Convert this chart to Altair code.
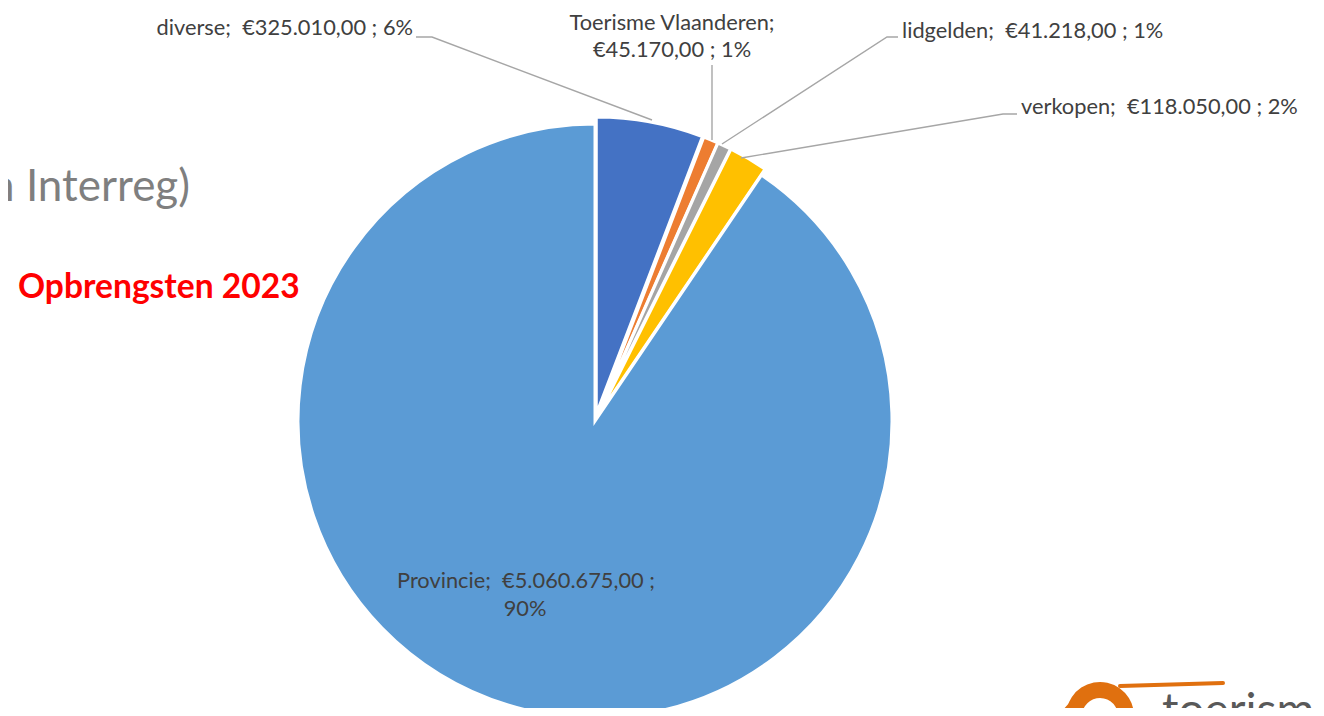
import math
import altair as alt
import pandas as pd

# ---- data ----
categories = ["diverse", "Toerisme Vlaanderen", "lidgelden", "verkopen", "Provincie"]
values = [325010, 45170, 41218, 118050, 5060675]
percents = ["6%", "1%", "1%", "2%", "90%"]
colors = ["#4472C4", "#ED7D31", "#A5A5A5", "#FFC000", "#5B9BD5"]
exploded = [1, 1, 1, 1, 0]

# ---- layout (chart pixel coords) ----
W, H = 1308, 700
CX, CY, R = 587, 413, 297
EXPLODE = 7
FONT = "Lato"
LABEL_COLOR = "#404040"
LINE_COLOR = "#A6A6A6"
SP = "\u00a0 "  # double space as in the original labels


def euro(v):
    s = f"{v:,.2f}"
    return "€" + s.replace(",", "X").replace(".", ",").replace("X", ".")


df = pd.DataFrame({"cat": categories, "value": values, "idx": list(range(len(values)))})

total = sum(values)
layers = []
cum = 0
for i, (c, v, e) in enumerate(zip(categories, values, exploded)):
    mid = (cum + v / 2) / total * 2 * math.pi
    cum += v
    ox = CX + e * EXPLODE * math.sin(mid)
    oy = CY - e * EXPLODE * math.cos(mid)
    layers.append(
        alt.Chart(df)
        .mark_arc(outerRadius=R, stroke="white", strokeWidth=3)
        .encode(
            theta=alt.Theta("value:Q", stack=True),
            order=alt.Order("idx:Q"),
            color=alt.Color("cat:N", scale=alt.Scale(domain=categories, range=colors), legend=None),
            opacity=alt.when(alt.datum.cat == c).then(alt.value(1)).otherwise(alt.value(0)),
            x=alt.value(ox),
            y=alt.value(oy),
        )
    )

# ---- data labels ----
lab_text = [
    f"{categories[0]};{SP}{euro(values[0])} ; {percents[0]}",
    f"{categories[1]};",
    f"{euro(values[1])} ; {percents[1]}",
    f"{categories[2]};{SP}{euro(values[2])} ; {percents[2]}",
    f"{categories[3]};{SP}{euro(values[3])} ; {percents[3]}",
    f"{categories[4]};{SP}{euro(values[4])} ;",
    f"{percents[4]}",
]
lab_x = [405, 664, 664, 894, 1013, 518, 517]
lab_y = [20, 15, 42, 23, 99, 573, 601]
lab_align = ["right", "center", "center", "left", "left", "center", "center"]
labels = pd.DataFrame({"text": lab_text, "x": lab_x, "y": lab_y, "align": lab_align})

for al in ["left", "center", "right"]:
    layers.append(
        alt.Chart(labels)
        .transform_filter(alt.datum.align == al)
        .mark_text(font=FONT, fontSize=21.8, color=LABEL_COLOR, align=al, baseline="middle")
        .encode(
            x=alt.X("x:Q", scale=None, axis=None),
            y=alt.Y("y:Q", scale=None, axis=None),
            text="text:N",
        )
    )

# ---- leader lines ----
ll_id = [0, 0, 0, 1, 1, 2, 2, 2, 3, 3, 3]
ll_ord = [0, 1, 2, 0, 1, 0, 1, 2, 0, 1, 2]
ll_x = [408, 424, 644, 704, 704, 890, 879, 714, 1009, 995, 733]
ll_y = [29, 29, 112, 57, 132, 29, 29, 136, 106, 106, 150]
leaders = pd.DataFrame({"id": ll_id, "o": ll_ord, "x": ll_x, "y": ll_y})
layers.append(
    alt.Chart(leaders)
    .mark_line(color=LINE_COLOR, strokeWidth=1.4)
    .encode(
        x=alt.X("x:Q", scale=None, axis=None),
        y=alt.Y("y:Q", scale=None, axis=None),
        detail="id:N",
        order="o:Q",
    )
)

# ---- slide texts ----
slide = pd.DataFrame({
    "text": ["n Interreg)", "Opbrengsten 2023"],
    "x": [182, 10],
    "y": [180, 280],
})
layers.append(
    alt.Chart(slide.iloc[[0]])
    .mark_text(font=FONT, fontSize=44, color="#7F7F7F", align="right", baseline="middle")
    .encode(x=alt.X("x:Q", scale=None, axis=None), y=alt.Y("y:Q", scale=None, axis=None), text="text:N")
)
layers.append(
    alt.Chart(slide.iloc[[1]])
    .mark_text(font=FONT, fontSize=33.6, fontWeight="bold", color="#FF0000", align="left", baseline="middle")
    .encode(x=alt.X("x:Q", scale=None, axis=None), y=alt.Y("y:Q", scale=None, axis=None), text="text:N")
)

# ---- logo fragment (bottom right) ----
logo_txt = pd.DataFrame({"text": ["toerisme"], "x": [1154], "y": [718]})
layers.append(
    alt.Chart(logo_txt)
    .mark_text(font=FONT, fontSize=46, color="#595959", align="left", baseline="alphabetic")
    .encode(x=alt.X("x:Q", scale=None, axis=None), y=alt.Y("y:Q", scale=None, axis=None), text="text:N")
)
swirl = pd.DataFrame({"k": ["e"], "v": [1]})
layers.append(
    alt.Chart(swirl)
    .mark_arc(innerRadius=18, outerRadius=34, color="#E0700F", theta=4.5, theta2=7.7)
    .encode(x=alt.value(1092), y=alt.value(708))
)
brush = pd.DataFrame({"id": [0, 0, 1, 1], "o": [0, 1, 0, 1],
                      "x": [1112, 1215, 1054, 1070], "y": [678, 675, 706, 688]})
layers.append(
    alt.Chart(brush)
    .mark_line(color="#E0700F", strokeWidth=4, strokeCap="round")
    .encode(
        x=alt.X("x:Q", scale=None, axis=None),
        y=alt.Y("y:Q", scale=None, axis=None),
        detail="id:N",
        order="o:Q",
    )
)

chart = (
    alt.layer(*layers)
    .properties(width=W, height=H, autosize=alt.AutoSizeParams(type="none"), padding=0)
    .configure_view(strokeWidth=0)
)

chart.save("out.html", embed_options={"renderer": "svg", "actions": False})
